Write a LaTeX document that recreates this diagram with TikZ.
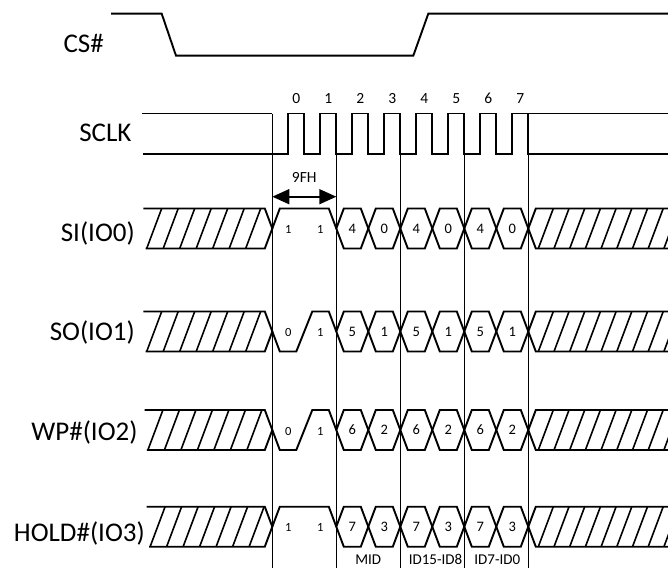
\documentclass[tikz,border=0pt]{standalone}
\usepackage{fontspec}
\setmainfont{Carlito}
\usetikzlibrary{arrows.meta}
\begin{document}
\begin{tikzpicture}[x=1pt,y=-1pt,
  sig/.style={line width=1.9pt,line join=miter},
  hatch/.style={line width=1.6pt},
  vline/.style={line width=1.6pt},
  lbl/.style={font=\fontsize{27}{27}\selectfont,anchor=base east,inner sep=0pt},
  clk/.style={font=\fontsize{15.5}{15.5}\selectfont,inner sep=0pt},
  hexd/.style={font=\fontsize{14.5}{14.5}\selectfont,inner sep=0pt},
  segd/.style={font=\fontsize{12.5}{12.5}\selectfont,inner sep=0pt},
  botl/.style={font=\fontsize{15}{15}\selectfont,inner sep=0pt,anchor=base}]
\useasboundingbox (0,0) rectangle (668,567);
\pgfmathsetmacro\xA{272.3}
\pgfmathsetmacro\xB{\xA+64}
\pgfmathsetmacro\xC{\xA+128}
\pgfmathsetmacro\xD{\xA+192}
\pgfmathsetmacro\xE{\xA+256}
\def\sh{20}
\def\sd{7.5}
\newcommand\sigrow[8]{%
  % left hatched (undefined) region
  \draw[sig] (#7,#1-\sh) -- (\xA-\sd,#1-\sh) -- (\xA,#1) -- (\xA-\sd,#1+\sh) -- (#7+2.4,#1+\sh);
  \foreach \k in {0,...,6} \draw[hatch] (#7+3.4+16.5*\k,#1+\sh) -- (#7+18.4+16.5*\k,#1-\sh);
  % first segment
  \draw[sig] (\xA,#1) -- (\xA+\sd,#1+#2*\sh) -- (\xA+24,#1+#2*\sh) -- (\xA+40,#1-\sh) -- (\xB-\sd,#1-\sh) -- (\xB,#1);
  \node[segd] (#8-p) at (\xA+16,#1+1) {#5};
  \node[segd] (#8-q) at (\xA+48,#1+1) {#6};
  % hexagons
  \foreach \k/\v in {0/#3,1/#4,2/#3,3/#4,4/#3,5/#4} {
    \pgfmathsetmacro\xa{\xB+32*\k}
    \pgfmathsetmacro\xb{\xa+32}
    \draw[sig] (\xa,#1) -- (\xa+\sd,#1-\sh) -- (\xb-\sd,#1-\sh) -- (\xb,#1) -- (\xb-\sd,#1+\sh) -- (\xa+\sd,#1+\sh) -- cycle;
    \node[hexd] (#8-h\k) at (\xa+16,#1) {\v};
  }
  % right hatched region
  \draw[sig] (675,#1-\sh) -- (\xE+\sd,#1-\sh) -- (\xE,#1) -- (\xE+\sd,#1+\sh) -- (675,#1+\sh);
  \foreach \k in {0,...,8} \draw[hatch] (\xE+10+15.7*\k,#1+\sh) -- (\xE+25+15.7*\k,#1-\sh);
}
% CS#
\node[lbl] (cs) at (104,52.7) {CS\#};
\draw[sig] (111,13.7) -- (161.7,13.7) -- (176,55.7) -- (413.3,55.7) -- (428.3,13.7) -- (675,13.7);
% SCLK
\node[lbl] (sclk) at (131.7,141.7) {SCLK};
\draw[sig] (141.7,113.5) -- (\xA,113.5);
\draw[sig] (143.3,154) \foreach \k in {0,...,7} { -- (\xA+16+32*\k,154) -- (\xA+16+32*\k,113.5) -- (\xA+32+32*\k,113.5) -- (\xA+32+32*\k,154) } -- (675,154);
\draw[sig] (\xE,113.5) -- (675,113.5);
\foreach \k in {0,...,7} \node[clk] (n\k) at (\xA+24+32*\k,98.3) {\k};
% vertical guides
\foreach \x in {\xA,\xB,\xC,\xD,\xE} \draw[vline] (\x,113.5) -- (\x,570);
% 9FH arrow
\coordinate (aL) at (\xA,196.7);
\coordinate (aR) at (\xB,196.7);
\draw[line width=1.6pt,{Triangle[length=17pt,width=15pt]}-{Triangle[length=17pt,width=15pt]}] (aL) -- (aR);
\node[clk] (nfh) at (\xA+32,177) {9FH};
% signal rows
\node[lbl] (si) at (135,241) {SI(IO0)};
\sigrow{228.5}{-1}{4}{0}{1}{1}{143.3}{si}
\node[lbl] (so) at (135,340) {SO(IO1)};
\sigrow{331.5}{1}{5}{1}{0}{1}{143.3}{so}
\node[lbl] (wp) at (137.7,440) {WP\#(IO2)};
\sigrow{430}{1}{6}{2}{0}{1}{144.5}{wp}
\node[lbl] (hold) at (145,541.7) {HOLD\#(IO3)};
\sigrow{526.7}{-1}{7}{3}{1}{1}{146.7}{hold}
% bottom labels
\node[botl] (mid) at (368.3,564.5) {MID};
\node[botl] (idh) at (435.5,564.5) {ID15-ID8};
\node[botl] (idl) at (497.3,564.5) {ID7-ID0};
\end{tikzpicture}
\end{document}
